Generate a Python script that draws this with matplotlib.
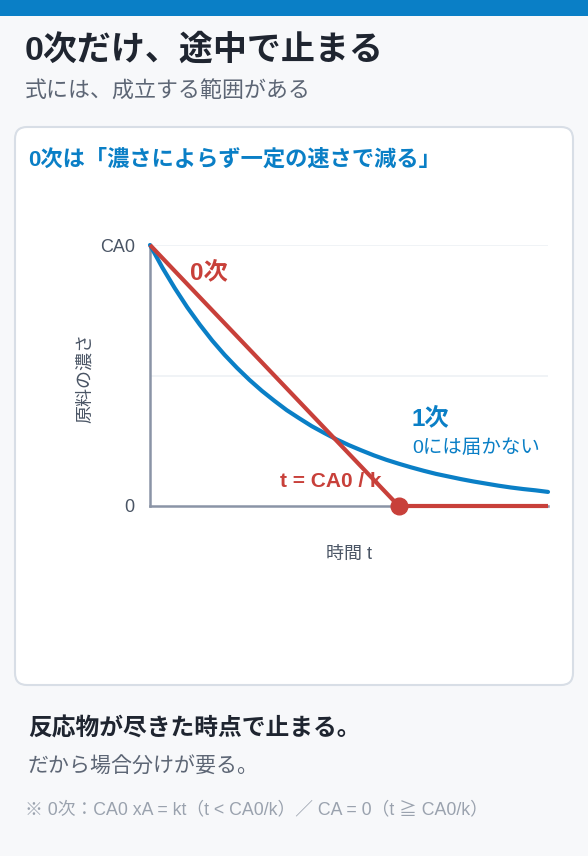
import numpy as np
import matplotlib
matplotlib.use("Agg")
import matplotlib.pyplot as plt
from matplotlib.patches import FancyBboxPatch, Rectangle

plt.rcParams['font.family'] = ['Liberation Sans', 'Noto Sans CJK JP', 'DejaVu Sans']

# ---- data (C / CA0 vs t, with CA0/k = 1) ----
t_first = [0.00, 0.05, 0.10, 0.15, 0.20, 0.25, 0.30, 0.35, 0.40, 0.45, 0.50,
           0.55, 0.60, 0.65, 0.70, 0.75, 0.80, 0.85, 0.90, 0.95, 1.00, 1.05,
           1.10, 1.15, 1.20, 1.25, 1.30, 1.35, 1.40, 1.45, 1.50, 1.55, 1.60]
c_first = [1.000, 0.913, 0.834, 0.761, 0.695, 0.634, 0.579, 0.529, 0.483,
           0.441, 0.403, 0.367, 0.336, 0.306, 0.280, 0.255, 0.233, 0.213,
           0.194, 0.177, 0.162, 0.148, 0.135, 0.123, 0.113, 0.103, 0.094,
           0.086, 0.078, 0.071, 0.065, 0.060, 0.054]
t_zero = [0.0, 1.0, 1.6]
c_zero = [1.0, 0.0, 0.0]
t_stop = [1.0]
c_stop = [0.0]
y_ticks = [0.0, 1.0]
y_ticklabels = ['0', 'CA0']
grid_levels = [0.5, 1.0]

BLUE = '#0a7fc6'
RED = '#c8403a'
DARK = '#1f2530'
GRAY = '#5d6675'
LIGHT = '#9aa2ae'
AXIS = '#8a94a6'
LABEL = '#4a5565'

W, H = 588, 856
fig = plt.figure(figsize=(W / 100, H / 100), dpi=100)
fig.patch.set_facecolor('#f7f8fa')

bg = fig.add_axes([0, 0, 1, 1])
bg.set_xlim(0, W)
bg.set_ylim(H, 0)
bg.axis('off')

bg.add_patch(Rectangle((0, 0), W, 16, color=BLUE, lw=0))
bg.add_patch(FancyBboxPatch((15, 127), 558, 558,
                            boxstyle='round,pad=0,rounding_size=12',
                            facecolor='white', edgecolor='#d8dee6', lw=1.5))

bg.text(25, 50, '0次だけ、途中で止まる', fontsize=24.5, fontweight='bold',
        color=DARK, va='center', ha='left')
bg.text(25, 92, '式には、成立する範囲がある', fontsize=15.8, color=GRAY,
        va='center', ha='left')
bg.text(28, 160, '0次は「濃さによらず一定の速さで減る」', fontsize=16,
        fontweight='bold', color=BLUE, va='center', ha='left')

bg.text(28, 729, '反応物が尽きた時点で止まる。', fontsize=17.1,
        fontweight='bold', color=DARK, va='center', ha='left')
bg.text(28, 767, 'だから場合分けが要る。', fontsize=15.1, color=GRAY,
        va='center', ha='left')
bg.text(25, 810, '※ 0次：CA0 xA = kt（t < CA0/k）／ CA = 0（t ≧ CA0/k）',
        fontsize=12.8, color=LIGHT, va='center', ha='left')

# axis titles
bg.text(85, 378, '原料の濃さ', fontsize=13, color=LABEL, rotation=90,
        va='center', ha='center')
bg.text(349, 554, '時間 t', fontsize=13, color=LABEL, va='center', ha='center')

# ---- chart ----
x0, x1 = 150, 548
ytop, ybot = 245, 506
ax = fig.add_axes([x0 / W, (H - ybot) / H, (x1 - x0) / W, (ybot - ytop) / H])
ax.set_facecolor('none')
ax.set_xlim(0, 1.6)
ax.set_ylim(0, 1)

for g in grid_levels:
    ax.axhline(g, color='#eef1f5', lw=1.2, zorder=0)

for s in ['top', 'right']:
    ax.spines[s].set_visible(False)
for s in ['left', 'bottom']:
    ax.spines[s].set_color(AXIS)
    ax.spines[s].set_linewidth(1.8)
    ax.spines[s].set_zorder(1)

ax.set_xticks([])
ax.set_yticks(y_ticks)
ax.set_yticklabels(y_ticklabels)
ax.tick_params(axis='y', length=0, pad=11, labelsize=13, labelcolor=LABEL)

ax.text(0.523, 0.092, 't = CA0 / k', fontsize=15, fontweight='bold',
        color=RED, ha='left', va='center', zorder=2)

ax.plot(t_first, c_first, color=BLUE, lw=3, solid_capstyle='round',
        clip_on=False, zorder=3)
ax.plot(t_zero, c_zero, color=RED, lw=3, solid_capstyle='butt',
        clip_on=False, zorder=4)
ax.plot(t_stop, c_stop, 'o', color=RED, ms=12, clip_on=False, zorder=5)

ax.text(0.161, 0.893, '0次', fontsize=17.5, fontweight='bold', color=RED,
        ha='left', va='center')
ax.text(1.053, 0.333, '1次', fontsize=17.5, fontweight='bold', color=BLUE,
        ha='left', va='center')
ax.text(1.053, 0.222, '0には届かない', fontsize=14, color=BLUE,
        ha='left', va='center')

fig.savefig('out.png', dpi=100, facecolor=fig.get_facecolor())
